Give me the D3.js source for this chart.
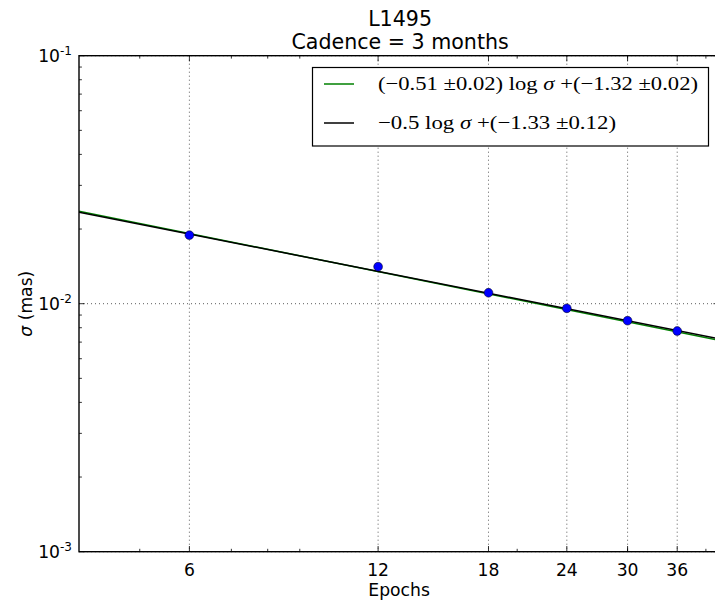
<!DOCTYPE html>
<html>
<head>
<meta charset="utf-8">
<script src="https://cdn.jsdelivr.net/npm/d3@7"></script>
<style>
html,body{margin:0;padding:0;background:#fff;}
svg{display:block;}
</style>
</head>
<body>
<script>
// ---- data ----
const titleLines = ["L1495", "Cadence = 3 months"];
const epochs = [6, 12, 18, 24, 30, 36];
const sigma = [0.0189, 0.0141, 0.01107, 0.00958, 0.00854, 0.00776];
const xTickValues = [6, 12, 18, 24, 30, 36];
const xMinorTicks = [5, 7, 8, 9, 20, 30, 40];
const yTickValues = [1e-3, 1e-2, 1e-1];
const yTickExponents = ["-3", "-2", "-1"];
const yMinorTicks = [2e-3,3e-3,4e-3,5e-3,6e-3,7e-3,8e-3,9e-3,2e-2,3e-2,4e-2,5e-2,6e-2,7e-2,8e-2,9e-2];
const fitSlopes = [-0.51, -0.5];
const fitIntercepts = [-1.32, -1.33];
const fitColors = ["#008000", "#000000"];
const legendParts = [
  ["(\u22120.51 \u00b10.02) log ", "\u03c3", " +(\u22121.32 \u00b10.02)"],
  ["\u22120.5 log ", "\u03c3", " +(\u22121.33 \u00b10.12)"]
];

const W = 715, H = 603;
const L = 79, T = 55.7, B = 551.7;
const pxPerDecadeX = 626.9;
const xDomain = [4, 42];
const R = L + pxPerDecadeX * Math.log10(xDomain[1] / xDomain[0]);

const svg = d3.select("body").append("svg").attr("width", W).attr("height", H);
const x = d3.scaleLog().domain(xDomain).range([L, R]);
const y = d3.scaleLog().domain([1e-3, 1e-1]).range([B, T]);

svg.append("defs").append("clipPath").attr("id", "clip")
  .append("rect").attr("x", L).attr("y", T).attr("width", R - L).attr("height", B - T);

const font = "'DejaVu Sans', sans-serif";

// grid
const grid = svg.append("g").attr("stroke", "#000").attr("stroke-width", 0.8)
  .attr("stroke-dasharray", "1,3").attr("opacity", 0.8);
grid.selectAll("line.gx").data(xTickValues).join("line")
  .attr("x1", d => x(d)).attr("x2", d => x(d)).attr("y1", T).attr("y2", B);
grid.selectAll("line.gy").data(yTickValues).join("line")
  .attr("y1", d => y(d)).attr("y2", d => y(d)).attr("x1", L).attr("x2", R);

// fit lines
const lineGen = d3.line().x(d => x(d[0])).y(d => y(d[1]));
const plot = svg.append("g").attr("clip-path", "url(#clip)");
fitSlopes.forEach((m, i) => {
  const b = fitIntercepts[i];
  const pts = xDomain.map(n => [n, Math.pow(10, m * Math.log10(n) + b)]);
  plot.append("path").attr("d", lineGen(pts)).attr("fill", "none")
    .attr("stroke", fitColors[i]).attr("stroke-width", 1.5);
});

// points
plot.selectAll("circle").data(epochs).join("circle")
  .attr("cx", d => x(d)).attr("cy", (d, i) => y(sigma[i])).attr("r", 4.4)
  .attr("fill", "#0000ff").attr("stroke", "#000").attr("stroke-width", 0.5);

// ticks
const ticks = svg.append("g").attr("stroke", "#000").attr("stroke-width", 0.8);
const maj = 5.7, mnr = 2.9;
xTickValues.forEach(v => {
  ticks.append("line").attr("x1", x(v)).attr("x2", x(v)).attr("y1", B).attr("y2", B - maj);
  ticks.append("line").attr("x1", x(v)).attr("x2", x(v)).attr("y1", T).attr("y2", T + maj);
});
xMinorTicks.forEach(v => {
  ticks.append("line").attr("x1", x(v)).attr("x2", x(v)).attr("y1", B).attr("y2", B - mnr);
  ticks.append("line").attr("x1", x(v)).attr("x2", x(v)).attr("y1", T).attr("y2", T + mnr);
});
yTickValues.forEach(v => {
  ticks.append("line").attr("y1", y(v)).attr("y2", y(v)).attr("x1", L).attr("x2", L + maj);
  ticks.append("line").attr("y1", y(v)).attr("y2", y(v)).attr("x1", R).attr("x2", R - maj);
});
yMinorTicks.forEach(v => {
  ticks.append("line").attr("y1", y(v)).attr("y2", y(v)).attr("x1", L).attr("x2", L + mnr);
  ticks.append("line").attr("y1", y(v)).attr("y2", y(v)).attr("x1", R).attr("x2", R - mnr);
});

// frame
svg.append("rect").attr("x", L).attr("y", T).attr("width", R - L).attr("height", B - T)
  .attr("fill", "none").attr("stroke", "#000").attr("stroke-width", 1.4);

// x tick labels
svg.append("g").selectAll("text").data(xTickValues).join("text")
  .attr("x", d => x(d)).attr("y", 576).attr("text-anchor", "middle")
  .attr("font-family", font).attr("font-size", 17.2).attr("fill", "#000")
  .text(d => d);

// y tick labels
yTickValues.forEach((v, i) => {
  const t = svg.append("text").attr("x", 72).attr("y", y(v) + 6.5).attr("text-anchor", "end")
    .attr("font-family", font).attr("font-size", 17.2).attr("fill", "#000");
  t.append("tspan").text("10");
  t.append("tspan").attr("dy", -7.5).attr("font-size", 12).text(yTickExponents[i]);
});

// axis labels
svg.append("text").attr("x", (L + R) / 2).attr("y", 596).attr("text-anchor", "middle")
  .attr("font-family", font).attr("font-size", 17.2).text("Epochs");
const yl = svg.append("text").attr("transform", `translate(32,${(T + B) / 2}) rotate(-90)`)
  .attr("text-anchor", "middle").attr("font-family", font).attr("font-size", 17.2);
yl.append("tspan").attr("font-style", "italic").text("\u03c3");
yl.append("tspan").text(" (mas)");

// title
titleLines.forEach((s, i) => {
  svg.append("text").attr("x", (L + R) / 2 + 1).attr("y", 26 + i * 22.5)
    .attr("text-anchor", "middle").attr("font-family", font).attr("font-size", 20.6).text(s);
});

// legend
const lg = svg.append("g");
lg.append("rect").attr("x", 312.5).attr("y", 67.5).attr("width", 396).attr("height", 78.5)
  .attr("fill", "#fff").attr("stroke", "#000").attr("stroke-width", 1.2);
const rowY = [84, 123];
const rowW = [320, 238];
legendParts.forEach((parts, i) => {
  lg.append("line").attr("x1", 324).attr("x2", 354).attr("y1", rowY[i]).attr("y2", rowY[i])
    .attr("stroke", fitColors[i]).attr("stroke-width", 1.5);
  const t = lg.append("text").attr("x", 378).attr("y", rowY[i] + 6)
    .attr("font-family", "'Liberation Serif', 'DejaVu Serif', serif").attr("font-size", 19.5)
    .attr("textLength", rowW[i]).attr("lengthAdjust", "spacingAndGlyphs");
  t.append("tspan").text(parts[0]);
  t.append("tspan").attr("font-style", "italic").text(parts[1]);
  t.append("tspan").text(parts[2]);
});
</script>
</body>
</html>
